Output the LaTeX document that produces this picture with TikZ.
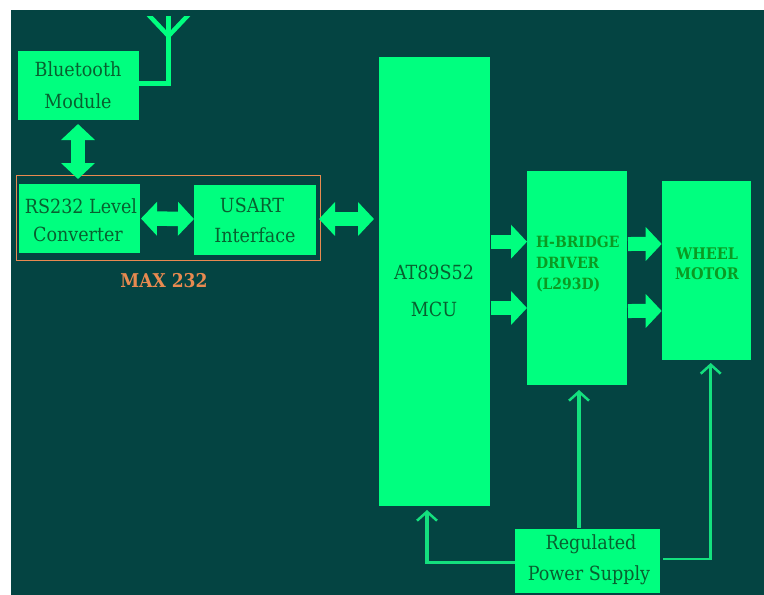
\documentclass[tikz,border=0pt]{standalone}
\usepackage{fontspec}
\setmainfont{DejaVu Serif Condensed}
\usetikzlibrary{arrows.meta,calc}
\definecolor{bgdark}{HTML}{044442}
\definecolor{boxgreen}{HTML}{00FF7F}
\definecolor{txtgreen}{HTML}{08602F}
\definecolor{boldgreen}{HTML}{0B9A22}
\definecolor{linegreen}{HTML}{14E07E}
\definecolor{maxorange}{HTML}{E88A50}
\tikzset{
  x=1pt,y=-1pt,
  block/.style={fill=boxgreen,draw=none,inner sep=0pt,outer sep=0pt,anchor=north west,align=center,text=txtgreen},
  label14/.style={font=\fontsize{19.5}{31}\selectfont},
  fat/.style={draw=boxgreen,line width=14.5pt,{Triangle[length=16pt,width=33pt]}-{Triangle[length=16pt,width=33pt]}},
  fatone/.style={draw=boxgreen,line width=14pt,-{Triangle[length=16pt,width=33pt]}},
  power/.style={draw=linegreen,line width=3.5pt,-{Straight Barb[length=9pt,width=20pt,line width=2.5pt]}},
}
\begin{document}
\begin{tikzpicture}
\useasboundingbox (0,0) rectangle (764,595);
\fill[white] (0,0) rectangle (764,595);
\fill[bgdark] (11,10) rectangle (764,595);
% boxes
\node[block,minimum width=121.5pt,minimum height=69pt] (bt) at (17.5,51) {};
\node[block,minimum width=121pt,minimum height=69pt] (rs) at (19,184) {};
\node[block,minimum width=122pt,minimum height=70pt] (us) at (194,185) {};
\node[block,minimum width=111pt,minimum height=449pt] (mcu) at (378.5,57) {};
\node[block,minimum width=100pt,minimum height=214pt] (hb) at (527,171) {};
\node[block,minimum width=89pt,minimum height=179.5pt] (wm) at (661.7,180.7) {};
\node[block,minimum width=145pt,minimum height=64pt] (ps) at (515,528.7) {};
\node[draw=maxorange,line width=1pt,fill=none,minimum width=304pt,minimum height=85pt,inner sep=0pt,anchor=north west] (mx) at (16,175) {};
% texts
\node[text=txtgreen,label14] (t1) at (78,69) {Bluetooth};
\node[text=txtgreen,label14] (t2) at (78,101) {Module};
\node[text=txtgreen,label14] (t3) at (81,206) {RS232 Level};
\node[text=txtgreen,label14] (t4) at (78,234) {Converter};
\node[text=txtgreen,label14] (t5) at (252,205) {USART};
\node[text=txtgreen,label14] (t6) at (255,235) {Interface};
\node[text=txtgreen,label14] (t7) at (434,272) {AT89S52};
\node[text=txtgreen,label14] (t8) at (434,309) {MCU};
\node[text=txtgreen,label14] (t9) at (591,544) {Regulated};
\node[text=txtgreen,label14] (t10) at (589,575) {Power Supply};
\node[text=boldgreen,font=\fontsize{15.5}{21}\selectfont\bfseries,align=left,anchor=west] (t11) at (532.5,264) {H-BRIDGE\\DRIVER\\(L293D)};
\node[text=boldgreen,font=\fontsize{16}{20}\selectfont\bfseries,align=center] (t12) at (707,264) {WHEEL\\MOTOR};
\node[text=maxorange,font=\fontsize{19}{22}\selectfont\bfseries] (t13) at (164,281) {MAX 232};
% block arrows
\draw[fat] (78,124) -- (78,179);
\draw[fat] (rs.east) ++(1,0) -- ($(us.west)+(0,-1)$);
\draw[fat] ($(us.east)+(3,-1)$) -- (374,219);
\draw[fatone] ($(mcu.east)+(1,-39.8)$) -- ($(hb.west)+(0,-36.3)$);
\draw[fatone] ($(mcu.east)+(1,26.5)$) -- ($(hb.west)+(0,30)$);
\draw[fatone] ($(hb.east)+(1,-34)$) -- ($(wm.west)+(0,-26.5)$);
\draw[fatone] ($(hb.east)+(1,33)$) -- ($(wm.west)+(0,40.5)$);
% antenna
\coordinate (ant) at (168.5,85);
\draw[boxgreen,line width=4.5pt] (bt.east |- ant) ++(0,-1.5) -| (168.5,16);
\begin{scope}
\clip (140,16) rectangle (200,60);
\draw[boxgreen,line width=4.5pt] (144,10) -- (168.5,36) -- (193,10);
\end{scope}
% power lines
\draw[power] (ps.west |- 0,562.7) -- (427,562.7) -- (427,510);
\draw[power] (579,528) -- (579,390);
\draw[power,line width=2.5pt] (663,559) -- (710.7,559) -- (710.7,363);
\end{tikzpicture}
\end{document}
